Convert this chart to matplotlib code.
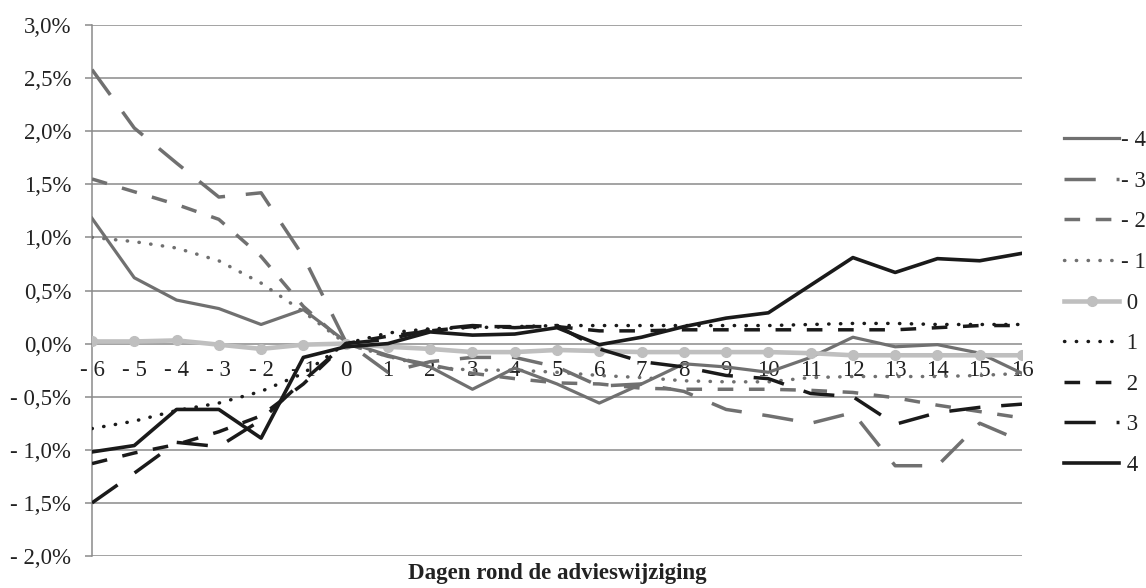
import matplotlib
matplotlib.use("Agg")
import matplotlib.pyplot as plt
from matplotlib.ticker import FuncFormatter, FixedLocator

plt.rcParams['font.family'] = ['Liberation Serif', 'DejaVu Serif']

# dagen rond de advieswijziging
dagen = list(range(-6, 17))

# cumulatieve rendementen (%) per adviesverandering
s_min4 = [1.18, 0.62, 0.41, 0.33, 0.18, 0.32, 0.02, -0.11, -0.22, -0.43, -0.23, -0.38, -0.56,
          -0.38, -0.19, -0.22, -0.27, -0.13, 0.06, -0.03, -0.01, -0.09, -0.28]
s_min3 = [2.58, 2.03, 1.70, 1.38, 1.42, 0.82, 0.02, -0.27, -0.17, -0.13, -0.13, -0.22, -0.40,
          -0.38, -0.45, -0.62, -0.68, -0.75, -0.65, -1.15, -1.15, -0.75, -0.92]
s_min2 = [1.55, 1.43, 1.31, 1.17, 0.82, 0.35, 0.0, -0.12, -0.20, -0.28, -0.33, -0.37, -0.38,
          -0.42, -0.43, -0.43, -0.43, -0.44, -0.46, -0.51, -0.58, -0.64, -0.70]
s_min1 = [1.0, 0.96, 0.90, 0.78, 0.57, 0.30, 0.0, -0.12, -0.22, -0.25, -0.25, -0.27, -0.30,
          -0.32, -0.35, -0.36, -0.36, -0.32, -0.31, -0.31, -0.31, -0.30, -0.28]
s_0 = [0.02, 0.02, 0.03, -0.01, -0.05, -0.01, 0.0, -0.03, -0.05, -0.08, -0.08, -0.06, -0.07,
       -0.08, -0.08, -0.08, -0.08, -0.09, -0.11, -0.11, -0.11, -0.11, -0.11]
s_1 = [-0.80, -0.73, -0.63, -0.56, -0.45, -0.28, 0.0, 0.10, 0.14, 0.15, 0.16, 0.17, 0.17,
       0.17, 0.17, 0.17, 0.17, 0.18, 0.19, 0.19, 0.18, 0.18, 0.18]
s_2 = [-1.13, -1.03, -0.95, -0.83, -0.68, -0.38, 0.0, 0.07, 0.12, 0.16, 0.16, 0.16, 0.12,
       0.12, 0.13, 0.13, 0.13, 0.13, 0.13, 0.13, 0.15, 0.17, 0.17]
s_3 = [-1.50, -1.22, -0.93, -0.97, -0.72, -0.35, 0.0, 0.04, 0.13, 0.17, 0.15, 0.17, -0.05,
       -0.17, -0.22, -0.30, -0.33, -0.47, -0.50, -0.76, -0.65, -0.60, -0.57]
s_4 = [-1.02, -0.96, -0.62, -0.62, -0.89, -0.13, -0.03, 0.0, 0.11, 0.08, 0.09, 0.15, -0.01,
       0.06, 0.16, 0.24, 0.29, 0.55, 0.81, 0.67, 0.80, 0.78, 0.85]

labels = ["- 4", "- 3", "- 2", "- 1", " 0", " 1", " 2", " 3", " 4"]

grijs = "#707070"
licht = "#BFBFBF"
zwart = "#1A1A1A"

fig = plt.figure(figsize=(11.46, 5.88), dpi=100)
ax = fig.add_axes([92 / 1146, 1 - 556 / 588, (1022 - 92) / 1146, (556 - 25) / 588])

lw = 2.5
stijlen = [
    (s_min4, dict(color=grijs, lw=2.3, ls='-')),
    (s_min3, dict(color=grijs, lw=lw, ls=(0, (9, 6)))),
    (s_min2, dict(color=grijs, lw=lw, ls=(0, (4.5, 4.5)))),
    (s_min1, dict(color=grijs, lw=lw, ls=(0, (0.1, 3.3)), dash_capstyle='round')),
    (s_0, dict(color=licht, lw=3.3, ls='-', marker='o', markersize=7)),
    (s_1, dict(color=zwart, lw=lw, ls=(0, (0.1, 3.3)), dash_capstyle='round')),
    (s_2, dict(color=zwart, lw=lw, ls=(0, (4.5, 4.5)))),
    (s_3, dict(color=zwart, lw=lw, ls=(0, (9, 6)))),
    (s_4, dict(color=zwart, lw=2.6, ls='-')),
]

handles = []
for reeks, st in stijlen:
    h, = ax.plot(dagen, reeks, zorder=3, **st)
    handles.append(h)

ax.set_xlim(-6, 16)
ax.set_ylim(-2.0, 3.0)

ax.yaxis.set_major_locator(FixedLocator([-2.0, -1.5, -1.0, -0.5, 0.0, 0.5, 1.0, 1.5, 2.0, 2.5, 3.0]))


def pct(v, pos):
    s = f"{abs(v):.1f}".replace('.', ',') + "%"
    return ("- " + s) if v < -1e-9 else s


ax.yaxis.set_major_formatter(FuncFormatter(pct))
ax.set_xticks(dagen)
ax.set_xticklabels([("- " + str(-d)) if d < 0 else str(d) for d in dagen])

fs = 16.5
ax.set_axisbelow(True)
ax.grid(axis='y', color='#8A8A8A', lw=1.1)
for s in ['top', 'right']:
    ax.spines[s].set_visible(False)
ax.spines['left'].set_color('#8A8A8A')
ax.spines['left'].set_linewidth(1.1)
ax.spines['bottom'].set_position(('data', 0))
ax.spines['bottom'].set_visible(False)

ax.tick_params(axis='y', length=5, width=1.1, color='#8A8A8A', pad=10, labelsize=fs,
               labelcolor='#222222')
ax.tick_params(axis='x', length=0, pad=12, labelsize=fs, labelcolor='#222222')

fig.text(557 / 1146, 1 - 574 / 588, "Dagen rond de advieswijziging", ha='center', va='center',
         fontsize=fs, fontweight='bold', color='#222222')

fig.legend(handles, labels, loc='center left', bbox_to_anchor=(1064 / 1146, 1 - 303 / 588),
           frameon=False, borderpad=0, borderaxespad=0, handlelength=2.4, handletextpad=0.1,
           labelspacing=0.85, fontsize=fs, labelcolor='#222222')

fig.savefig("out.png", dpi=100)
